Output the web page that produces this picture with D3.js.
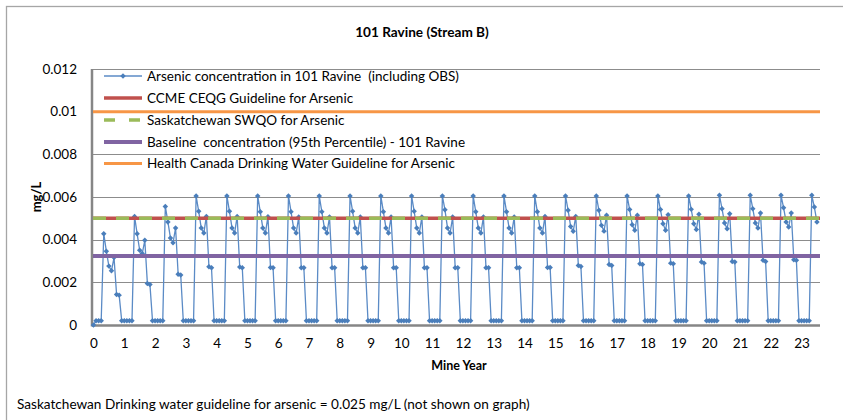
<!DOCTYPE html>
<html><head><meta charset="utf-8">
<script src="https://cdn.jsdelivr.net/npm/d3@7"></script>
<style>
html,body{margin:0;padding:0;background:#fff;}
svg{display:block;font-family:Lato,"Open Sans",sans-serif;}
text{white-space:pre;}
</style></head>
<body><svg id="c" width="843" height="420"></svg>
<script>
// ---- data (mg/L), one row per mine year, monthly values Jan..Dec ----
const L = 0.0002;
const monthly = [
  [0,      L, L, L, 0.00428, 0.00346, 0.00276, 0.00254, 0.00316, 0.00143, 0.00140, L],
  [L,      L, L, L, 0.00509, 0.00428, 0.00350, 0.00335, 0.00397, 0.00195, 0.00190, L],
  [L,      L, L, L, 0.00556, 0.00483, 0.00408, 0.00385, 0.00455, 0.00238, 0.00234, L],
  [L,      L, L, L, 0.00605, 0.00533, 0.00455, 0.00431, 0.00509, 0.00273, 0.00268, L],
  [L,      L, L, L, 0.00605, 0.00533, 0.00455, 0.00431, 0.00509, 0.00272, 0.00268, L],
  [L,      L, L, L, 0.00605, 0.00531, 0.00455, 0.00431, 0.00508, 0.00270, 0.00268, L],
  [L,      L, L, L, 0.00605, 0.00531, 0.00455, 0.00431, 0.00506, 0.00268, 0.00268, L],
  [L,      L, L, L, 0.00605, 0.00531, 0.00455, 0.00431, 0.00506, 0.00268, 0.00268, L],
  [L,      L, L, L, 0.00605, 0.00533, 0.00455, 0.00431, 0.00506, 0.00268, 0.00268, L],
  [L,      L, L, L, 0.00605, 0.00531, 0.00455, 0.00431, 0.00506, 0.00268, 0.00268, L],
  [L,      L, L, L, 0.00605, 0.00533, 0.00455, 0.00431, 0.00506, 0.00268, 0.00268, L],
  [L,      L, L, L, 0.00605, 0.00540, 0.00455, 0.00431, 0.00506, 0.00268, 0.00268, L],
  [L,      L, L, L, 0.00605, 0.00531, 0.00455, 0.00431, 0.00506, 0.00268, 0.00268, L],
  [L,      L, L, L, 0.00605, 0.00531, 0.00455, 0.00431, 0.00506, 0.00268, 0.00268, L],
  [L,      L, L, L, 0.00605, 0.00531, 0.00455, 0.00431, 0.00509, 0.00270, 0.00270, L],
  [L,      L, L, L, 0.00605, 0.00538, 0.00462, 0.00439, 0.00509, 0.00279, 0.00274, L],
  [L,      L, L, L, 0.00605, 0.00538, 0.00467, 0.00440, 0.00514, 0.00284, 0.00279, L],
  [L,      L, L, L, 0.00605, 0.00541, 0.00470, 0.00444, 0.00514, 0.00287, 0.00284, L],
  [L,      L, L, L, 0.00605, 0.00541, 0.00475, 0.00444, 0.00517, 0.00290, 0.00287, L],
  [L,      L, L, L, 0.00605, 0.00542, 0.00475, 0.00448, 0.00519, 0.00295, 0.00290, L],
  [L,      L, L, L, 0.00608, 0.00545, 0.00478, 0.00451, 0.00522, 0.00298, 0.00295, L],
  [L,      L, L, L, 0.00608, 0.00545, 0.00478, 0.00455, 0.00525, 0.00303, 0.00298, L],
  [L,      L, L, L, 0.00608, 0.00550, 0.00483, 0.00459, 0.00525, 0.00306, 0.00303, L],
  [L,      L, L, L, 0.00608, 0.00553, 0.00483]
];
const guideNames = [
  "CCME CEQG Guideline for Arsenic",
  "Saskatchewan SWQO for Arsenic",
  "Baseline  concentration (95th Percentile) - 101 Ravine",
  "Health Canada Drinking Water Guideline for Arsenic"
];
const guideValues = [0.005, 0.005, 0.00323, 0.010];
const seriesName = "Arsenic concentration in 101 Ravine  (including OBS)";
const yTicks = [0, 0.002, 0.004, 0.006, 0.008, 0.010, 0.012];
const yTickLabels = ["0", "0.002", "0.004", "0.006", "0.008", "0.01", "0.012"];
const xTicks = d3.range(0, 24);
const title = "101 Ravine (Stream B)";
const xTitle = "Mine Year";
const yTitle = "mg/L";
const footnote = "Saskatchewan Drinking water guideline for arsenic = 0.025 mg/L (not shown on graph)";

// ---- styles ----
const blue = "#4A7EBB", guideColors = ["#C0504D", "#9BBB59", "#8064A2", "#F79646"];
const guideWidths = [3.5, 3.5, 4, 3];
const guideDash = [null, "13,10", null, null];

const svg = d3.select("#c");
// outer chart border (cropped)
svg.append("rect").attr("x", 6.5).attr("y", 6.5).attr("width", 900).attr("height", 500)
  .attr("fill", "none").attr("stroke", "#a6a6a6").attr("stroke-width", 1.3);

const x = d3.scaleLinear().domain([0, 23.6]).range([93.5, 820]);
const y = d3.scaleLinear().domain([0, 0.012]).range([325, 69]);

const points = [];
monthly.forEach((row, yr) => row.forEach((v, m) => points.push({x: yr + m / 12, v})));

// gridlines
svg.append("g").selectAll("line").data(yTicks.slice(1)).join("line")
  .attr("x1", 92).attr("x2", 820).attr("y1", d => Math.round(y(d)) + 0.5).attr("y2", d => Math.round(y(d)) + 0.5)
  .attr("stroke", "#8c8c8c").attr("stroke-width", 1);

// y axis
const yAxis = d3.axisLeft(y).tickValues(yTicks).tickFormat((d, i) => yTickLabels[i]).tickSize(0).tickPadding(15);
const gy = svg.append("g").attr("transform", "translate(92,0)").call(yAxis);
gy.select(".domain").remove();
gy.selectAll("text").attr("font-size", 13.5).attr("fill", "#000").attr("font-family", "Lato");

// x axis
const xAxis = d3.axisBottom(x).tickValues(xTicks).tickFormat(d3.format("d")).tickSize(0).tickPadding(13);
const gx = svg.append("g").attr("transform", "translate(0,325)").call(xAxis);
gx.select(".domain").remove();
gx.selectAll("text").attr("font-size", 13.5).attr("fill", "#000").attr("font-family", "Lato");

// axis lines
svg.append("line").attr("x1", 92).attr("x2", 820).attr("y1", 325.5).attr("y2", 325.5).attr("stroke", "#868686").attr("stroke-width", 2.5);
svg.append("line").attr("x1", 92).attr("x2", 92).attr("y1", 69).attr("y2", 326.5).attr("stroke", "#868686").attr("stroke-width", 2.5);

// series
const line = d3.line().x(d => x(d.x)).y(d => y(d.v));
svg.append("path").datum(points).attr("d", line).attr("fill", "none")
  .attr("stroke", "#5b8bc6").attr("stroke-width", 1.3);
const diamond = d3.symbol().type(d3.symbolSquare).size(15);
svg.append("g").selectAll("path").data(points).join("path")
  .attr("transform", d => `translate(${x(d.x)},${y(d.v)}) rotate(45)`).attr("d", diamond).attr("fill", blue);

// guidelines
guideValues.forEach((v, i) => {
  svg.append("line").attr("x1", 93).attr("x2", 820).attr("y1", y(v)).attr("y2", y(v))
    .attr("stroke", guideColors[i]).attr("stroke-width", guideWidths[i])
    .attr("stroke-dasharray", guideDash[i]);
});

// legend
const lg = svg.append("g").attr("font-family", "Lato").attr("font-size", 13.5);
const legY = [76, 98, 120, 142, 163.5];
lg.append("line").attr("x1", 104).attr("x2", 142).attr("y1", legY[0]).attr("y2", legY[0]).attr("stroke", "#5b8bc6").attr("stroke-width", 1.3);
lg.append("path").attr("transform", `translate(123,${legY[0]}) rotate(45)`).attr("d", diamond).attr("fill", blue);
lg.append("text").attr("x", 147).attr("y", legY[0]).attr("dy", "0.35em").text(seriesName);
guideNames.forEach((n, i) => {
  lg.append("line").attr("x1", 104).attr("x2", 142).attr("y1", legY[i + 1]).attr("y2", legY[i + 1])
    .attr("stroke", guideColors[i]).attr("stroke-width", guideWidths[i]).attr("stroke-dasharray", i === 1 ? "11,14" : null);
  lg.append("text").attr("x", 147).attr("y", legY[i + 1]).attr("dy", "0.35em").text(n);
});

// titles
svg.append("text").attr("x", 422).attr("y", 32).attr("dy", "0.35em").attr("text-anchor", "middle")
  .attr("font-size", 13.6).attr("font-weight", "bold").text(title);
svg.append("text").attr("x", 459).attr("y", 366).attr("dy", "0.35em").attr("text-anchor", "middle")
  .attr("font-size", 12.5).attr("font-weight", "bold").text(xTitle);
svg.append("text").attr("transform", "translate(36,197) rotate(-90)").attr("dy", "0.35em").attr("text-anchor", "middle")
  .attr("font-size", 13).attr("font-weight", "bold").text(yTitle);
svg.append("text").attr("x", 17).attr("y", 404).attr("dy", "0.35em")
  .attr("font-size", 13.6).text(footnote);
</script></body></html>
